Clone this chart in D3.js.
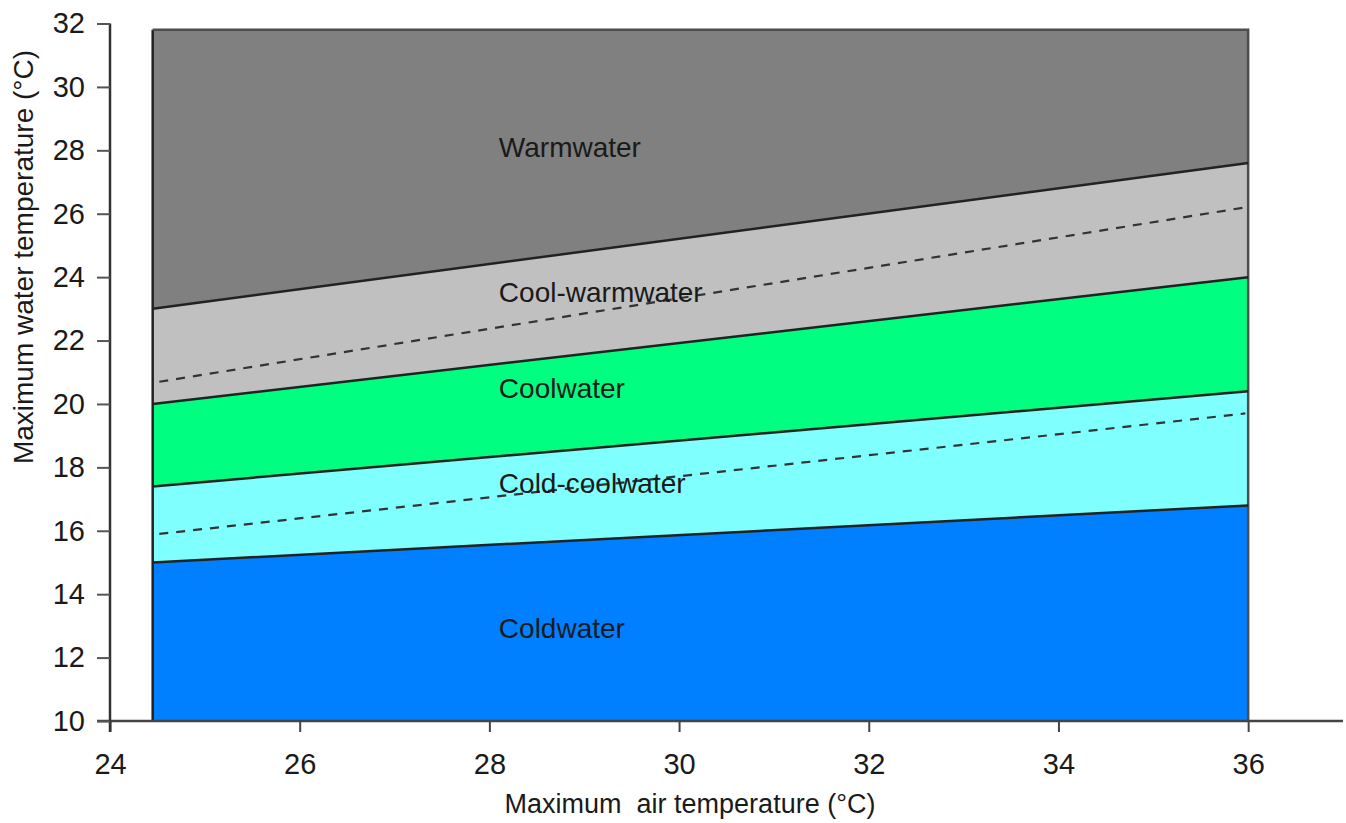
<!doctype html>
<html lang="en">
  <head>
    <meta charset="utf-8">
    <script src="https://d3js.org/d3.v7.min.js"></script>
    <title>Thermal classes</title>
    <style>
      body { margin: 0; background: #fff; }
      text { font-family: "Liberation Sans", Arial, sans-serif; fill: #1a1a1a; }
      .boundary { fill: none; stroke: #222; stroke-width: 2.5px; }
      .dashed { fill: none; stroke: #333; stroke-width: 2.2px; stroke-dasharray: 9,8; }
    </style>
  </head>
  <body>
    <svg width="1346" height="823"></svg>
    <script>
      // air temperature at the two ends of the class lines
      const airEnds = [24.45, 36];

      // class boundaries (water temperature at each end)
      const coldTop = [15.0, 16.8];
      const coldCoolTop = [17.4, 20.4];
      const coolTop = [20.0, 24.0];
      const coolWarmTop = [23.0, 27.6];
      const plotTop = [31.8, 31.8];
      const plotBottom = [10, 10];

      // dashed lines inside the transition classes
      const dashEnds = [24.52, 35.97];
      const coolWarmMid = [20.7, 26.2];
      const coldCoolMid = [15.9, 19.7];

      const classNames = ["Coldwater", "Cold-coolwater", "Coolwater", "Cool-warmwater", "Warmwater"];
      const classColors = ["#0080ff", "#80ffff", "#00ff80", "#c0c0c0", "#808080"];
      const labelY = [12.63, 17.2, 20.2, 23.22, 27.79];
      const labelX = 28.1;

      const xTicks = [24, 26, 28, 30, 32, 34, 36];
      const yTicks = [10, 12, 14, 16, 18, 20, 22, 24, 26, 28, 30, 32];

      const svg = d3.select("svg");

      const x = d3.scaleLinear().domain([24, 37]).range([110, 1343]);
      const y = d3.scaleLinear().domain([10, 32]).range([721, 23.5]);

      const bands = [plotBottom, coldTop, coldCoolTop, coolTop, coolWarmTop, plotTop];

      const area = d3.area()
        .x(d => x(d.x))
        .y0(d => y(d.lo))
        .y1(d => y(d.hi));

      const line = d3.line()
        .x(d => x(d.x))
        .y(d => y(d.y));

      const pts = (xs, arr) => xs.map((a, i) => ({ x: a, y: arr[i] }));

      // filled classes
      svg.append("g").selectAll("path")
        .data(classNames)
        .enter().append("path")
        .attr("d", (d, i) => area(airEnds.map((a, j) => ({ x: a, lo: bands[i][j], hi: bands[i + 1][j] }))))
        .attr("fill", (d, i) => classColors[i]);

      // frame of the class area
      svg.append("path")
        .attr("d", line([{ x: airEnds[0], y: 10 }, { x: airEnds[0], y: plotTop[0] }]))
        .attr("fill", "none").attr("stroke", "#222").attr("stroke-width", 2.5);
      svg.append("path")
        .attr("d", line([{ x: airEnds[0], y: plotTop[0] }, { x: airEnds[1], y: plotTop[1] }, { x: airEnds[1], y: 10 }]))
        .attr("fill", "none").attr("stroke", "#4d4d4d").attr("stroke-width", 2.5);

      // solid boundaries
      svg.append("g").selectAll("path")
        .data([coldTop, coldCoolTop, coolTop, coolWarmTop])
        .enter().append("path")
        .attr("class", "boundary")
        .attr("d", d => line(pts(airEnds, d)));

      // dashed mid lines
      svg.append("g").selectAll("path")
        .data([coolWarmMid, coldCoolMid])
        .enter().append("path")
        .attr("class", "dashed")
        .attr("d", d => line(pts(dashEnds, d)));

      // class labels
      svg.append("g").selectAll("text")
        .data(classNames)
        .enter().append("text")
        .attr("x", x(labelX))
        .attr("y", (d, i) => y(labelY[i]))
        .attr("font-size", 28)
        .text(d => d);

      // axes
      const xAxis = svg.append("g")
        .attr("transform", `translate(0,${y(10)})`)
        .call(d3.axisBottom(x).tickValues(xTicks).tickSize(11).tickPadding(21).tickSizeOuter(0));
      xAxis.select(".domain").attr("stroke", "#444").attr("stroke-width", 2.5)
        .attr("d", `M${x(24) - 13},0H${x(37)}`);
      xAxis.selectAll(".tick line").attr("stroke", "#444").attr("stroke-width", 2);
      xAxis.selectAll(".tick text").attr("font-size", 29).attr("fill", "#1a1a1a")
        .attr("font-family", "Liberation Sans, Arial, sans-serif");

      const yAxis = svg.append("g")
        .attr("transform", `translate(${x(24)},0)`)
        .call(d3.axisLeft(y).tickValues(yTicks).tickSize(13).tickPadding(12).tickSizeOuter(0));
      yAxis.select(".domain").attr("stroke", "#333").attr("stroke-width", 2.5)
        .attr("d", `M0,${y(32)}V${y(10) + 11}`);
      yAxis.selectAll(".tick line").attr("stroke", "#555").attr("stroke-width", 2);
      yAxis.selectAll(".tick text").attr("font-size", 29).attr("fill", "#1a1a1a")
        .attr("font-family", "Liberation Sans, Arial, sans-serif");

      // axis titles
      svg.append("text")
        .attr("x", 690)
        .attr("y", 813)
        .attr("text-anchor", "middle")
        .attr("font-size", 27)
        .attr("xml:space", "preserve")
        .style("white-space", "pre")
        .text("Maximum  air temperature (°C)");

      svg.append("text")
        .attr("transform", "translate(33,257) rotate(-90)")
        .attr("text-anchor", "middle")
        .attr("font-size", 28)
        .text("Maximum water temperature (°C)");
    </script>
  </body>
</html>
